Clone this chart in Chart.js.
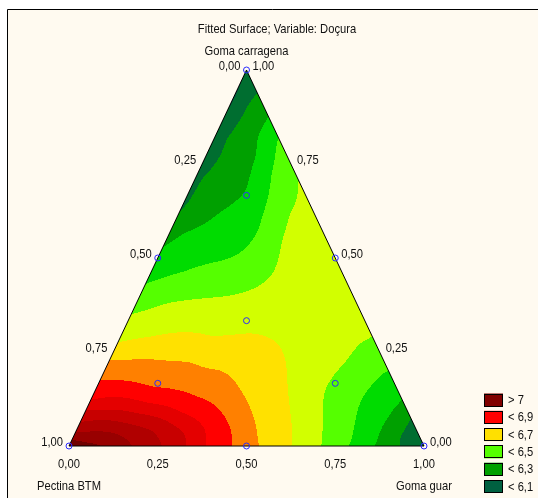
<!DOCTYPE html>
<html>
<head>
<meta charset="utf-8">
<script src="https://cdn.jsdelivr.net/npm/chart.js@4.4.1/dist/chart.umd.min.js"></script>
<style>
  html, body { margin: 0; padding: 0; background: #fff; }
  canvas { display: block; }
</style>
</head>
<body>
<canvas id="surfaceChart" width="538" height="498"></canvas>
<script>
// ── Ternary fitted surface – Doçura ──

const titleText = 'Fitted Surface; Variable: Doçura';
const compTop = 'Goma carragena';
const compLeft = 'Pectina BTM';
const compRight = 'Goma guar';
const tickFractions = [0, 0.25, 0.5, 0.75, 1];
const tickLabels = ['0,00', '0,25', '0,50', '0,75', '1,00'];

// contour levels and fill colours (one more colour than levels)
const levels = [6.1, 6.2, 6.3, 6.4, 6.5, 6.6, 6.7, 6.8, 6.9, 7.0, 7.1, 7.2, 7.3];
const bandColors = ['#005a40', '#006e30', '#00a000', '#00dc00', '#55ff00', '#d2ff00', '#ffe100',
                    '#ff8000', '#ff0000', '#e40000', '#c80000', '#b00000', '#980000', '#700000'];
const legendLabels = ['> 7', '< 6,9', '< 6,7', '< 6,5', '< 6,3', '< 6,1'];
const legendColors = ['#800000', '#ff0000', '#ffe000', '#55ff00', '#00a000', '#006040'];

// design points (fractions of guar and carragena, pectina = rest)
const designGuar = [0, 1, 0, 0.5, 0, 0.5, 1/3, 1/6, 2/3, 1/6];
const designCarr = [0, 0, 1, 0, 0.5, 0.5, 1/3, 1/6, 1/6, 2/3];

// values of the surface (guar, carragena, Doçura)
const readGuar = [
  // bottom edge
  0, 0.09, 0.17, 0.26, 0.33, 0.385, 0.458, 0.535, 0.625, 0.711, 0.786, 0.86, 0.935, 1,
  // left edge
  0, 0, 0, 0, 0, 0, 0, 0, 0, 0, 0, 0, 0, 0, 0, 0,
  // right edge
  0.923, 0.878, 0.806, 0.71, 0.5, 0.293, 0.178, 0.125, 0.061,
  // interior contour crossings
  0.083, 0.217, 0.360, 0.434, 0.479, 0.522, 0.575, 0.623,
  0.091, 0.237, 0.324, 0.408, 0.471, 0.524,
  0.161, 0.298, 0.387, 0.440,
  0.166, 0.274, 0.362,
  0.132, 0.236, 0.309,
  0.127, 0.212,
  0.112, 0.164,
  0.086, 0.219, 0.303, 0.345, 0.326, 0.313, 0.315, 0.671, 0.653, 0.669, 0.683,
  0.090, 0.211, 0.247, 0.231, 0.209, 0.189, 0.789, 0.767, 0.770, 0.784,
  0.038, 0.096, 0.120, 0.159, 0.140, 0.122, 0.862, 0.863,
  0.019, 0.025, 0.034, 0.050, 0.919, 0.927,
  // points inside bands
  0.333, 0.667, 0.45, 0.55, 0.40, 0.60, 0.70, 0.25, 0.35, 0.05, 0.96,
  0.05, 0.02, 0.10
];
const readCarr = [
  0, 0, 0, 0, 0, 0, 0, 0, 0, 0, 0, 0, 0, 0,
  0.016, 0.037, 0.064, 0.096, 0.122, 0.176, 0.229, 0.275, 0.351, 0.431, 0.529, 0.62, 0.75, 0.86, 0.93, 1,
  0.077, 0.122, 0.194, 0.29, 0.5, 0.707, 0.822, 0.875, 0.939,
  0.290, 0.303, 0.301, 0.282, 0.247, 0.184, 0.096, 0.016,
  0.234, 0.223, 0.202, 0.149, 0.088, 0.016,
  0.157, 0.130, 0.088, 0.037,
  0.114, 0.088, 0.043,
  0.090, 0.069, 0.035,
  0.061, 0.043,
  0.035, 0.016,
  0.380, 0.396, 0.415, 0.460, 0.548, 0.620, 0.654, 0.088, 0.176, 0.229, 0.274,
  0.463, 0.503, 0.566, 0.654, 0.721, 0.787, 0.016, 0.088, 0.157, 0.202,
  0.566, 0.601, 0.628, 0.681, 0.779, 0.848, 0.016, 0.082,
  0.715, 0.75, 0.822, 0.902, 0.016, 0.056,
  0.333, 0.167, 0.45, 0.30, 0.50, 0.25, 0.10, 0.25, 0.15, 0.05, 0.02,
  0.85, 0.92, 0.75
];
const readValue = [
  7.4, 7.3, 7.2, 7.1, 7.0, 6.9, 6.8, 6.7, 6.6, 6.5, 6.4, 6.3, 6.2, 6.13,
  7.3, 7.2, 7.1, 7.0, 6.9, 6.8, 6.7, 6.6, 6.5, 6.4, 6.3, 6.2, 6.15, 6.1, 6.08, 6.11,
  6.2, 6.3, 6.4, 6.5, 6.58, 6.5, 6.4, 6.3, 6.2,
  6.6, 6.6, 6.6, 6.6, 6.6, 6.6, 6.6, 6.6,
  6.7, 6.7, 6.7, 6.7, 6.7, 6.7,
  6.8, 6.8, 6.8, 6.8,
  6.9, 6.9, 6.9,
  7.0, 7.0, 7.0,
  7.1, 7.1,
  7.2, 7.2,
  6.5, 6.5, 6.5, 6.5, 6.5, 6.5, 6.5, 6.5, 6.5, 6.5, 6.5,
  6.4, 6.4, 6.4, 6.4, 6.4, 6.4, 6.4, 6.4, 6.4, 6.4,
  6.3, 6.3, 6.3, 6.3, 6.3, 6.3, 6.3, 6.3,
  6.2, 6.19, 6.2, 6.2, 6.2, 6.2,
  6.57, 6.47, 6.57, 6.57, 6.55, 6.56, 6.46, 6.63, 6.75, 7.17, 6.16,
  6.21, 6.15, 6.25
];

// ── thin plate spline through the readings ──
const aspect = 376 / 355;
const toXY = (g, c) => [g + c / 2, c * aspect];
const phi = r2 => (r2 > 1e-12 ? 0.5 * r2 * Math.log(r2) : 0);
const nodes = readValue.map((v, k) => toXY(readGuar[k], readCarr[k]));
const smoothing = 7e-4;

function fitSpline() {
  const n = nodes.length, m = n + 3;
  const A = Array.from({ length: m }, () => new Array(m + 1).fill(0));
  for (let i = 0; i < n; i++) {
    for (let j = 0; j < n; j++) {
      const dx = nodes[i][0] - nodes[j][0], dy = nodes[i][1] - nodes[j][1];
      A[i][j] = phi(dx * dx + dy * dy);
    }
    A[i][i] += smoothing;
    A[i][n] = 1; A[i][n + 1] = nodes[i][0]; A[i][n + 2] = nodes[i][1];
    A[n][i] = 1; A[n + 1][i] = nodes[i][0]; A[n + 2][i] = nodes[i][1];
    A[i][m] = readValue[i];
  }
  for (let col = 0; col < m; col++) {
    let piv = col;
    for (let r = col + 1; r < m; r++) if (Math.abs(A[r][col]) > Math.abs(A[piv][col])) piv = r;
    [A[col], A[piv]] = [A[piv], A[col]];
    for (let r = 0; r < m; r++) {
      if (r === col || A[r][col] === 0) continue;
      const f = A[r][col] / A[col][col];
      for (let s = col; s <= m; s++) A[r][s] -= f * A[col][s];
    }
  }
  return A.map((row, r) => row[m] / row[r]);
}
const weights = fitSpline();
function surface(g, c) {
  const [x, y] = toXY(g, c), n = nodes.length;
  let s = weights[n] + weights[n + 1] * x + weights[n + 2] * y;
  for (let i = 0; i < n; i++) {
    const dx = x - nodes[i][0], dy = y - nodes[i][1];
    s += weights[i] * phi(dx * dx + dy * dy);
  }
  return s;
}

function hexRgb(h) { return [1, 3, 5].map(i => parseInt(h.substr(i, 2), 16)); }
const bandRgb = bandColors.map(hexRgb);

// narrow sans, like the original output
const FONT = '13px "Liberation Sans", Arial, sans-serif';
const NARROW = 0.86;
const INK = '#111';
function label(ctx, text, x, y, align) {
  ctx.save();
  ctx.translate(x, y);
  ctx.scale(NARROW, 1);
  ctx.textAlign = align;
  ctx.fillText(text, 0, 0);
  ctx.restore();
}

const ternaryPlugin = {
  id: 'ternary',
  beforeDraw(chart) {
    const ctx = chart.ctx;
    ctx.save();
    ctx.fillStyle = '#ffffff';
    ctx.fillRect(0, 0, chart.width, chart.height);
    ctx.fillStyle = '#fffaf0';
    ctx.fillRect(8, 10, chart.width - 8, chart.height - 10);
    ctx.strokeStyle = '#000';
    ctx.lineWidth = 1;
    ctx.beginPath();
    ctx.moveTo(7.5, chart.height);
    ctx.lineTo(7.5, 9.5);
    ctx.lineTo(chart.width, 9.5);
    ctx.stroke();
    ctx.restore();
  },
  beforeDatasetsDraw(chart) {
    const ctx = chart.ctx, xs = chart.scales.x, ys = chart.scales.y;
    const x0 = Math.floor(xs.getPixelForValue(0)), x1 = Math.ceil(xs.getPixelForValue(1));
    const y0 = Math.floor(ys.getPixelForValue(1)), y1 = Math.ceil(ys.getPixelForValue(0));
    const w = x1 - x0 + 1, h = y1 - y0 + 1;
    const off = document.createElement('canvas');
    off.width = w; off.height = h;
    const octx = off.getContext('2d');
    const img = octx.createImageData(w, h);
    for (let py = 0; py < h; py++) {
      const c = ys.getValueForPixel(y0 + py + 0.5);
      for (let px = 0; px < w; px++) {
        const X = xs.getValueForPixel(x0 + px + 0.5);
        const g = X - c / 2, p = 1 - g - c;
        if (g < 0 || p < 0 || c < 0 || c > 1) continue;
        const v = surface(g, c);
        let band = 0;
        while (band < levels.length && v >= levels[band]) band++;
        const rgb = bandRgb[band], k = (py * w + px) * 4;
        img.data[k] = rgb[0]; img.data[k + 1] = rgb[1]; img.data[k + 2] = rgb[2]; img.data[k + 3] = 255;
      }
    }
    octx.putImageData(img, 0, 0);
    ctx.drawImage(off, x0, y0);

    // triangle outline
    ctx.save();
    ctx.strokeStyle = '#000';
    ctx.lineWidth = 1;
    ctx.beginPath();
    ctx.moveTo(xs.getPixelForValue(0), ys.getPixelForValue(0));
    ctx.lineTo(xs.getPixelForValue(0.5), ys.getPixelForValue(1));
    ctx.lineTo(xs.getPixelForValue(1), ys.getPixelForValue(0));
    ctx.closePath();
    ctx.stroke();
    ctx.restore();
  },
  afterDraw(chart) {
    const ctx = chart.ctx, xs = chart.scales.x, ys = chart.scales.y;
    ctx.save();
    ctx.font = FONT;
    ctx.fillStyle = INK;
    ctx.textBaseline = 'middle';

    label(ctx, titleText, 277, 29, 'center');
    label(ctx, compTop, xs.getPixelForValue(0.5), ys.getPixelForValue(1) - 19, 'center');
    label(ctx, compLeft, xs.getPixelForValue(0), 486, 'center');
    label(ctx, compRight, xs.getPixelForValue(1), 486, 'center');

    tickFractions.forEach((t, i) => {
      // bottom: goma guar
      label(ctx, tickLabels[i], xs.getPixelForValue(t), ys.getPixelForValue(0) + 18, 'center');
      // left edge: pectina
      label(ctx, tickLabels[tickLabels.length - 1 - i], xs.getPixelForValue(t / 2) - 6, ys.getPixelForValue(t) - 4, 'right');
      // right edge: carragena
      label(ctx, tickLabels[i], xs.getPixelForValue(1 - t / 2) + 6, ys.getPixelForValue(t) - 4, 'left');
    });

    // legend
    legendLabels.forEach((lab, i) => {
      const top = 393.5 + i * 17.3;
      ctx.fillStyle = legendColors[i];
      ctx.fillRect(484, top, 19, 13);
      ctx.strokeStyle = '#000';
      ctx.lineWidth = 1;
      ctx.strokeRect(484.5, Math.round(top) + 0.5, 18, 12);
      ctx.fillStyle = INK;
      label(ctx, lab, 508, top + 7, 'left');
    });
    ctx.restore();
  }
};

new Chart(document.getElementById('surfaceChart').getContext('2d'), {
  type: 'scatter',
  data: {
    datasets: [{
      data: designGuar.map((g, i) => ({ x: g + designCarr[i] / 2, y: designCarr[i] })),
      pointRadius: 3,
      pointBorderWidth: 1,
      pointBorderColor: '#2a2aff',
      pointBackgroundColor: 'rgba(0,0,0,0)',
      clip: false
    }]
  },
  options: {
    responsive: false,
    animation: false,
    layout: { padding: { left: 69, right: 114, top: 70, bottom: 52 } },
    plugins: { legend: { display: false }, tooltip: { enabled: false }, title: { display: false } },
    scales: {
      x: { type: 'linear', min: 0, max: 1, display: false },
      y: { type: 'linear', min: 0, max: 1, display: false }
    }
  },
  plugins: [ternaryPlugin]
});
</script>
</body>
</html>
